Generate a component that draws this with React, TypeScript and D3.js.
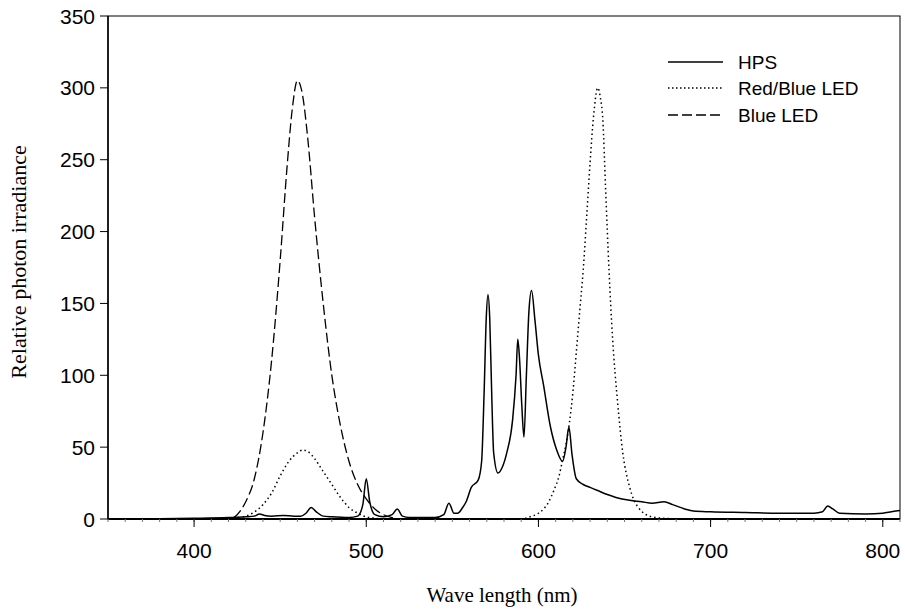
import React, { useEffect, useRef } from "react";
import * as d3 from "d3";

const hpsWave = [350, 380, 400, 420, 430, 435, 438, 441, 445, 452, 458, 462, 465, 468, 471, 475, 480, 490, 495, 498, 500, 502, 505, 510, 515, 518, 521, 525, 540, 545, 548, 551, 553, 556, 558, 561, 565, 567, 568.5, 569.7, 570.7, 571.7, 572.8, 574, 576.5, 579, 581.6, 585, 587, 588, 589, 590.3, 591.6, 593, 594.5, 596, 598, 600, 603, 607, 610.6, 614, 616, 617.7, 619.5, 622, 626, 630, 634, 640, 645, 653, 660, 666, 673, 678, 685, 690, 700, 720, 740, 760, 765, 768, 771, 775, 790, 800, 805, 810];
const hpsValue = [0, 0.2, 0.5, 1, 1.5, 2, 3.5, 2.5, 2, 2.5, 2, 2, 4, 8, 5, 2, 1.5, 1, 2, 10, 28, 12, 3, 1.5, 3, 7, 2, 1, 1, 3, 11, 4, 4, 8, 12, 22, 27, 40, 90, 140, 156, 140, 90, 46, 32, 36, 46, 69, 100, 125, 112, 80, 57, 100, 145, 159, 138, 114, 93, 64, 48, 40, 50, 64, 45, 28, 24, 22, 20, 17, 15, 13, 12, 11, 12, 10, 7, 5.5, 5, 4.5, 4, 4, 5, 9, 7, 4, 3.5, 4, 5, 6];

const rbWave = [350, 420, 430, 440, 445, 450, 455, 460, 463, 466, 470, 475, 480, 485, 490, 495, 500, 505, 510, 590, 595, 600, 603, 606, 609, 612, 614, 616, 618, 620, 622, 624, 626, 628, 630, 632, 634.5, 636, 637.4, 639, 641, 643, 646, 649, 653, 658, 666, 675, 690, 810];
const rbValue = [0, 0, 2, 10, 18, 30, 40, 46, 48, 47, 42, 33, 24, 15, 8, 4, 1.5, 0.5, 0, 0, 1.5, 4, 7, 12, 20, 30, 41, 52, 67, 88, 116, 145, 173, 210, 248, 280, 300, 293, 278, 230, 173, 127, 81, 46, 22, 8, 1.5, 0.3, 0, 0];

const blueWave = [350, 420, 425, 430, 435, 440, 445, 450, 454, 457, 460, 463, 466, 470, 475, 480, 485, 490, 495, 500, 505, 510, 515, 520, 810];
const blueValue = [0, 0, 3, 12, 28, 60, 110, 180, 245, 285, 305, 295, 265, 210, 150, 100, 65, 40, 24, 14, 7, 3, 1, 0, 0];

const xTicks = [400, 500, 600, 700, 800];
const yTicks = [0, 50, 100, 150, 200, 250, 300, 350];
const legendLabels = ["HPS", "Red/Blue LED", "Blue LED"];

export default function App() {
  const ref = useRef<SVGSVGElement>(null);
  useEffect(() => {
    const svg = d3.select(ref.current);
    svg.selectAll("*").remove();
    const L = 108, R = 900, T = 16, B = 519;
    const x = d3.scaleLinear().domain([350, 810]).range([L, R]);
    const y = d3.scaleLinear().domain([0, 350]).range([B, T]);
    const sans = "'Liberation Sans', Arial, sans-serif";
    const serif = "'Liberation Serif', 'Times New Roman', serif";

    svg.append("clipPath").attr("id", "pc").append("rect")
      .attr("x", L).attr("y", T).attr("width", R - L).attr("height", B - T);

    const line = d3.line<[number, number]>().x(d => x(d[0])).y(d => y(d[1])).curve(d3.curveMonotoneX);
    const series = [
      { w: blueWave, v: blueValue, dash: "10 4", sw: 1.3 },
      { w: rbWave, v: rbValue, dash: "1.5 3", sw: 1.5 },
      { w: hpsWave, v: hpsValue, dash: null, sw: 1.5 },
    ];
    const g = svg.append("g").attr("clip-path", "url(#pc)");
    series.forEach(s => {
      const pts = s.w.map((w, i) => [w, s.v[i]] as [number, number]);
      g.append("path").attr("d", line(pts)).attr("fill", "none").attr("stroke", "#000")
        .attr("stroke-width", s.sw).attr("stroke-dasharray", s.dash);
    });

    svg.append("rect").attr("x", L).attr("y", T).attr("width", R - L).attr("height", B - T)
      .attr("fill", "none").attr("stroke", "#000").attr("stroke-width", 1);
    svg.append("line").attr("x1", L).attr("x2", R).attr("y1", B).attr("y2", B).attr("stroke", "#000").attr("stroke-width", 2);
    svg.append("line").attr("x1", L).attr("x2", L).attr("y1", T).attr("y2", B).attr("stroke", "#000").attr("stroke-width", 1.5);

    d3.range(350, 811, 10).forEach(t => {
      svg.append("line").attr("x1", x(t)).attr("x2", x(t)).attr("y1", B).attr("y2", B + 3)
        .attr("stroke", "#777").attr("stroke-width", 1);
    });
    xTicks.forEach(t => {
      svg.append("line").attr("x1", x(t)).attr("x2", x(t)).attr("y1", B).attr("y2", B + 8).attr("stroke", "#000");
      svg.append("text").attr("x", x(t)).attr("y", 558).attr("text-anchor", "middle")
        .attr("font-family", sans).attr("font-size", 21).text(t);
    });
    yTicks.forEach(t => {
      svg.append("line").attr("x1", L - 8).attr("x2", L).attr("y1", y(t)).attr("y2", y(t)).attr("stroke", "#000");
      svg.append("text").attr("x", 95).attr("y", y(t)).attr("dy", "0.36em").attr("text-anchor", "end")
        .attr("font-family", sans).attr("font-size", 21).text(t);
    });

    svg.append("text").attr("x", 502).attr("y", 602).attr("text-anchor", "middle")
      .attr("font-family", serif).attr("font-size", 21).text("Wave length (nm)");
    svg.append("text").attr("transform", `translate(26,262) rotate(-90)`).attr("text-anchor", "middle")
      .attr("font-family", serif).attr("font-size", 22).text("Relative photon irradiance");

    const dashes = [null, "1.5 2.5", "10 4"];
    const ly = [62, 88, 115];
    legendLabels.forEach((lab, i) => {
      svg.append("line").attr("x1", 668).attr("x2", 723).attr("y1", ly[i]).attr("y2", ly[i])
        .attr("stroke", "#000").attr("stroke-width", 1.3).attr("stroke-dasharray", dashes[i]);
      svg.append("text").attr("x", 738).attr("y", ly[i]).attr("dy", "0.36em")
        .attr("font-family", sans).attr("font-size", 19).text(lab);
    });
  }, []);
  return (
    <div style={{ position: "absolute", left: 0, top: 0 }}>
      <svg ref={ref} width={905} height={611} style={{ display: "block", background: "#fff" }} />
    </div>
  );
}
